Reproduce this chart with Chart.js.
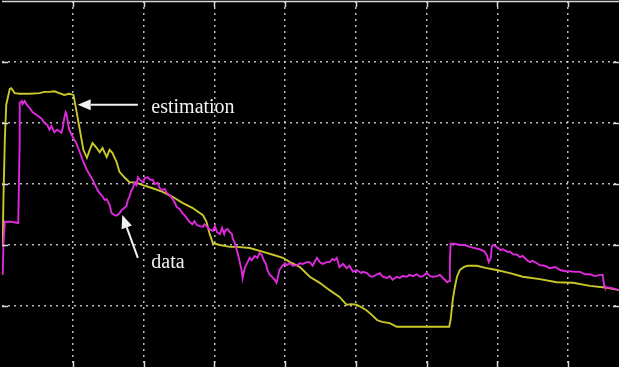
<!DOCTYPE html>
<html>
<head>
<meta charset="utf-8">
<script src="https://cdn.jsdelivr.net/npm/chart.js@4"></script>
<style>
  html, body { margin: 0; padding: 0; background: #000; }
  #wrap { width: 619px; height: 367px; }
</style>
</head>
<body>
<div id="wrap"><canvas id="c" width="619" height="367"></canvas></div>
<script>
// Estimated response (yellow trace)
const estimationTime = [1, 2, 4, 6, 11, 13, 18, 25, 39, 53, 60, 67, 74, 81, 88, 95, 101, 105, 110, 115, 120, 124, 128, 134, 138, 142, 148, 152, 156, 162, 166, 173, 180, 190, 199, 213, 227, 241, 255, 269, 284, 289, 293, 298, 308, 322, 332, 350, 368, 383, 397, 407, 421, 435, 449, 463, 477, 487, 494, 501, 508, 515, 523, 530, 537, 548, 558, 576, 605, 632, 634, 637, 640, 643, 647, 653, 658, 671, 685, 699, 718, 736, 760, 784, 807, 831, 855, 872];
const estimationValue = [1.98, 2.74, 3.72, 4.30, 4.56, 4.57, 4.49, 4.48, 4.48, 4.49, 4.51, 4.51, 4.52, 4.49, 4.46, 4.48, 4.46, 4.21, 3.89, 3.56, 3.43, 3.56, 3.67, 3.59, 3.52, 3.59, 3.44, 3.56, 3.51, 3.36, 3.20, 3.11, 3.03, 3.02, 2.98, 2.93, 2.87, 2.79, 2.69, 2.61, 2.49, 2.38, 2.20, 2.03, 2.00, 1.97, 1.97, 1.95, 1.89, 1.84, 1.79, 1.72, 1.64, 1.48, 1.38, 1.26, 1.15, 1.02, 1.03, 1.02, 0.98, 0.93, 0.85, 0.77, 0.74, 0.72, 0.66, 0.66, 0.66, 0.66, 0.77, 1.10, 1.31, 1.48, 1.59, 1.64, 1.66, 1.66, 1.62, 1.59, 1.54, 1.48, 1.44, 1.39, 1.38, 1.33, 1.30, 1.26];

// Measured signal (magenta trace)
const dataTime = [1, 2, 4, 13, 23, 25, 25, 28, 29, 32, 35, 39, 43, 49, 56, 60, 64, 67, 70, 74, 78, 84, 86, 88, 90, 91, 93, 95, 100, 105, 110, 114, 120, 124, 128, 135, 138, 142, 145, 148, 152, 155, 159, 162, 166, 169, 173, 176, 178, 180, 183, 185, 187, 190, 192, 194, 199, 202, 206, 209, 213, 216, 220, 223, 226, 230, 233, 237, 240, 244, 247, 251, 255, 258, 261, 265, 269, 272, 275, 279, 284, 286, 289, 293, 298, 301, 304, 308, 311, 314, 316, 319, 322, 325, 326, 329, 333, 336, 339, 340, 343, 346, 350, 353, 357, 361, 364, 367, 370, 373, 375, 378, 383, 385, 388, 390, 392, 395, 400, 402, 407, 411, 417, 421, 425, 431, 435, 439, 445, 449, 453, 459, 463, 467, 470, 473, 477, 482, 487, 491, 496, 501, 508, 510, 516, 520, 524, 530, 534, 538, 544, 548, 552, 558, 562, 566, 572, 576, 581, 586, 591, 595, 600, 605, 609, 615, 619, 623, 626, 629, 632, 633, 634, 640, 647, 654, 661, 668, 675, 681, 685, 688, 691, 692, 694, 699, 704, 708, 714, 718, 722, 728, 732, 736, 742, 746, 750, 756, 760, 767, 774, 782, 789, 796, 803, 810, 817, 824, 831, 838, 845, 849, 851, 852, 859, 866, 872];
const dataValue = [1.51, 2.00, 2.38, 2.38, 2.36, 3.72, 4.33, 4.36, 4.31, 4.36, 4.30, 4.25, 4.18, 4.13, 4.07, 4.00, 3.97, 3.89, 3.95, 3.85, 3.89, 3.84, 3.93, 4.08, 4.18, 4.16, 4.02, 3.89, 3.77, 3.67, 3.52, 3.39, 3.23, 3.15, 3.07, 2.90, 2.85, 2.80, 2.74, 2.75, 2.66, 2.52, 2.49, 2.48, 2.52, 2.57, 2.61, 2.64, 2.74, 2.79, 2.90, 2.93, 3.02, 2.98, 3.11, 3.08, 3.03, 3.10, 3.11, 3.07, 3.07, 3.00, 3.02, 2.93, 2.90, 2.92, 2.85, 2.82, 2.77, 2.70, 2.62, 2.59, 2.52, 2.49, 2.44, 2.38, 2.34, 2.39, 2.33, 2.31, 2.30, 2.34, 2.31, 2.26, 2.23, 2.31, 2.21, 2.18, 2.28, 2.18, 2.25, 2.26, 2.21, 2.18, 2.11, 2.03, 1.87, 1.72, 1.56, 1.46, 1.62, 1.69, 1.79, 1.75, 1.82, 1.79, 1.87, 1.84, 1.75, 1.69, 1.59, 1.52, 1.46, 1.44, 1.38, 1.48, 1.59, 1.64, 1.70, 1.67, 1.70, 1.66, 1.67, 1.70, 1.69, 1.72, 1.72, 1.66, 1.79, 1.72, 1.69, 1.72, 1.72, 1.77, 1.75, 1.79, 1.64, 1.69, 1.62, 1.66, 1.56, 1.59, 1.54, 1.56, 1.54, 1.49, 1.48, 1.52, 1.54, 1.48, 1.46, 1.49, 1.43, 1.48, 1.46, 1.49, 1.48, 1.51, 1.49, 1.52, 1.48, 1.49, 1.54, 1.49, 1.48, 1.49, 1.51, 1.46, 1.43, 1.39, 1.41, 1.72, 2.02, 2.02, 2.00, 2.00, 1.97, 1.95, 1.93, 1.90, 1.84, 1.72, 1.79, 1.97, 2.00, 1.97, 1.92, 1.93, 1.89, 1.89, 1.85, 1.84, 1.80, 1.82, 1.75, 1.72, 1.74, 1.70, 1.67, 1.66, 1.62, 1.64, 1.59, 1.57, 1.57, 1.56, 1.56, 1.52, 1.52, 1.49, 1.51, 1.51, 1.34, 1.31, 1.30, 1.28, 1.26];

// Axis ranges and grid divisions
const xRange = [0, 872];
const xStep = 100;
const yRange = [0, 6];
const yStep = 1;

// Callout labels: arrow tip, arrow tail, text anchor (all in data units)
const calloutLabels = ['estimation', 'data'];
const calloutTip = [[107, 4.30], [170, 2.49]];
const calloutTail = [[192, 4.30], [192, 1.79]];
const calloutText = [[211, 4.16], [211, 1.62]];

const toPoints = (xs, ys) => xs.map((x, i) => ({ x, y: ys[i] }));

const frameColor = '#d8d8d8';
const gridColor = 'rgba(220,220,220,0.85)';

// Top edge plus short tick marks at every grid division
const framePlugin = {
  id: 'frame',
  afterDatasetsDraw(chart) {
    const { ctx, chartArea: a, scales: { x, y } } = chart;
    ctx.save();
    ctx.strokeStyle = frameColor;
    ctx.lineWidth = 1.5;
    ctx.beginPath();
    ctx.moveTo(a.left, a.top + 0.5);
    ctx.lineTo(a.right, a.top + 0.5);
    const len = 6;
    x.ticks.forEach(t => {
      if (t.value % xStep !== 0 || t.value === xRange[0]) return;
      const px = Math.round(x.getPixelForValue(t.value)) + 0.5;
      ctx.moveTo(px, a.top); ctx.lineTo(px, a.top + len);
      ctx.moveTo(px, a.bottom); ctx.lineTo(px, a.bottom - len);
    });
    y.ticks.forEach(t => {
      if (t.value === yRange[0] || t.value === yRange[1]) return;
      const py = Math.round(y.getPixelForValue(t.value)) + 0.5;
      ctx.moveTo(a.left, py); ctx.lineTo(a.left + len, py);
      ctx.moveTo(a.right, py); ctx.lineTo(a.right - len, py);
    });
    ctx.stroke();
    ctx.restore();
  }
};

// Arrow callouts naming each trace
const calloutPlugin = {
  id: 'callouts',
  afterDraw(chart) {
    const { ctx, scales: { x, y } } = chart;
    ctx.save();
    ctx.strokeStyle = '#f2f2f2';
    ctx.fillStyle = '#f2f2f2';
    ctx.lineWidth = 2;
    calloutLabels.forEach((label, i) => {
      const tx = x.getPixelForValue(calloutTip[i][0]);
      const ty = y.getPixelForValue(calloutTip[i][1]);
      const bx = x.getPixelForValue(calloutTail[i][0]);
      const by = y.getPixelForValue(calloutTail[i][1]);
      const ang = Math.atan2(by - ty, bx - tx);
      const headLen = 13, headHalf = 5.5;
      const hx = tx + Math.cos(ang) * headLen;
      const hy = ty + Math.sin(ang) * headLen;
      ctx.beginPath();
      ctx.moveTo(hx, hy);
      ctx.lineTo(bx, by);
      ctx.stroke();
      ctx.beginPath();
      ctx.moveTo(tx, ty);
      ctx.lineTo(hx - Math.sin(ang) * headHalf, hy + Math.cos(ang) * headHalf);
      ctx.lineTo(hx + Math.sin(ang) * headHalf, hy - Math.cos(ang) * headHalf);
      ctx.closePath();
      ctx.fill();
      ctx.font = '20px "Liberation Serif", "Times New Roman", serif';
      ctx.textBaseline = 'alphabetic';
      ctx.textAlign = 'left';
      ctx.fillText(label, x.getPixelForValue(calloutText[i][0]), y.getPixelForValue(calloutText[i][1]));
    });
    ctx.restore();
  }
};

new Chart(document.getElementById('c'), {
  type: 'line',
  data: {
    datasets: [
      {
        label: 'data',
        data: toPoints(dataTime, dataValue),
        borderColor: '#dc2adc',
        borderWidth: 1.9,
        pointRadius: 0,
        tension: 0,
        fill: false
      },
      {
        label: 'estimation',
        data: toPoints(estimationTime, estimationValue),
        borderColor: '#c9c92a',
        borderWidth: 1.9,
        pointRadius: 0,
        tension: 0,
        fill: false
      }
    ]
  },
  options: {
    responsive: false,
    animation: false,
    layout: { padding: { left: 2, top: 1, right: 0, bottom: 0 } },
    plugins: { legend: { display: false }, tooltip: { enabled: false } },
    scales: {
      x: {
        type: 'linear',
        min: xRange[0],
        max: xRange[1],
        ticks: { display: false, stepSize: xStep },
        grid: {
          drawTicks: false,
          lineWidth: 1.5,
          color: c => (c.tick && c.tick.value % xStep === 0 && c.tick.value > xRange[0]) ? gridColor : 'rgba(0,0,0,0)'
        },
        border: { display: false, dash: [2, 4] },
        afterFit: s => { s.height = 0; }
      },
      y: {
        type: 'linear',
        min: yRange[0],
        max: yRange[1],
        ticks: { display: false, stepSize: yStep },
        grid: {
          drawTicks: false,
          lineWidth: 1.5,
          color: c => (c.tick && c.tick.value > yRange[0] && c.tick.value < yRange[1]) ? gridColor : 'rgba(0,0,0,0)'
        },
        border: { display: false, dash: [2, 4] },
        afterFit: s => { s.width = 0; }
      }
    }
  },
  plugins: [framePlugin, calloutPlugin]
});
</script>
</body>
</html>
